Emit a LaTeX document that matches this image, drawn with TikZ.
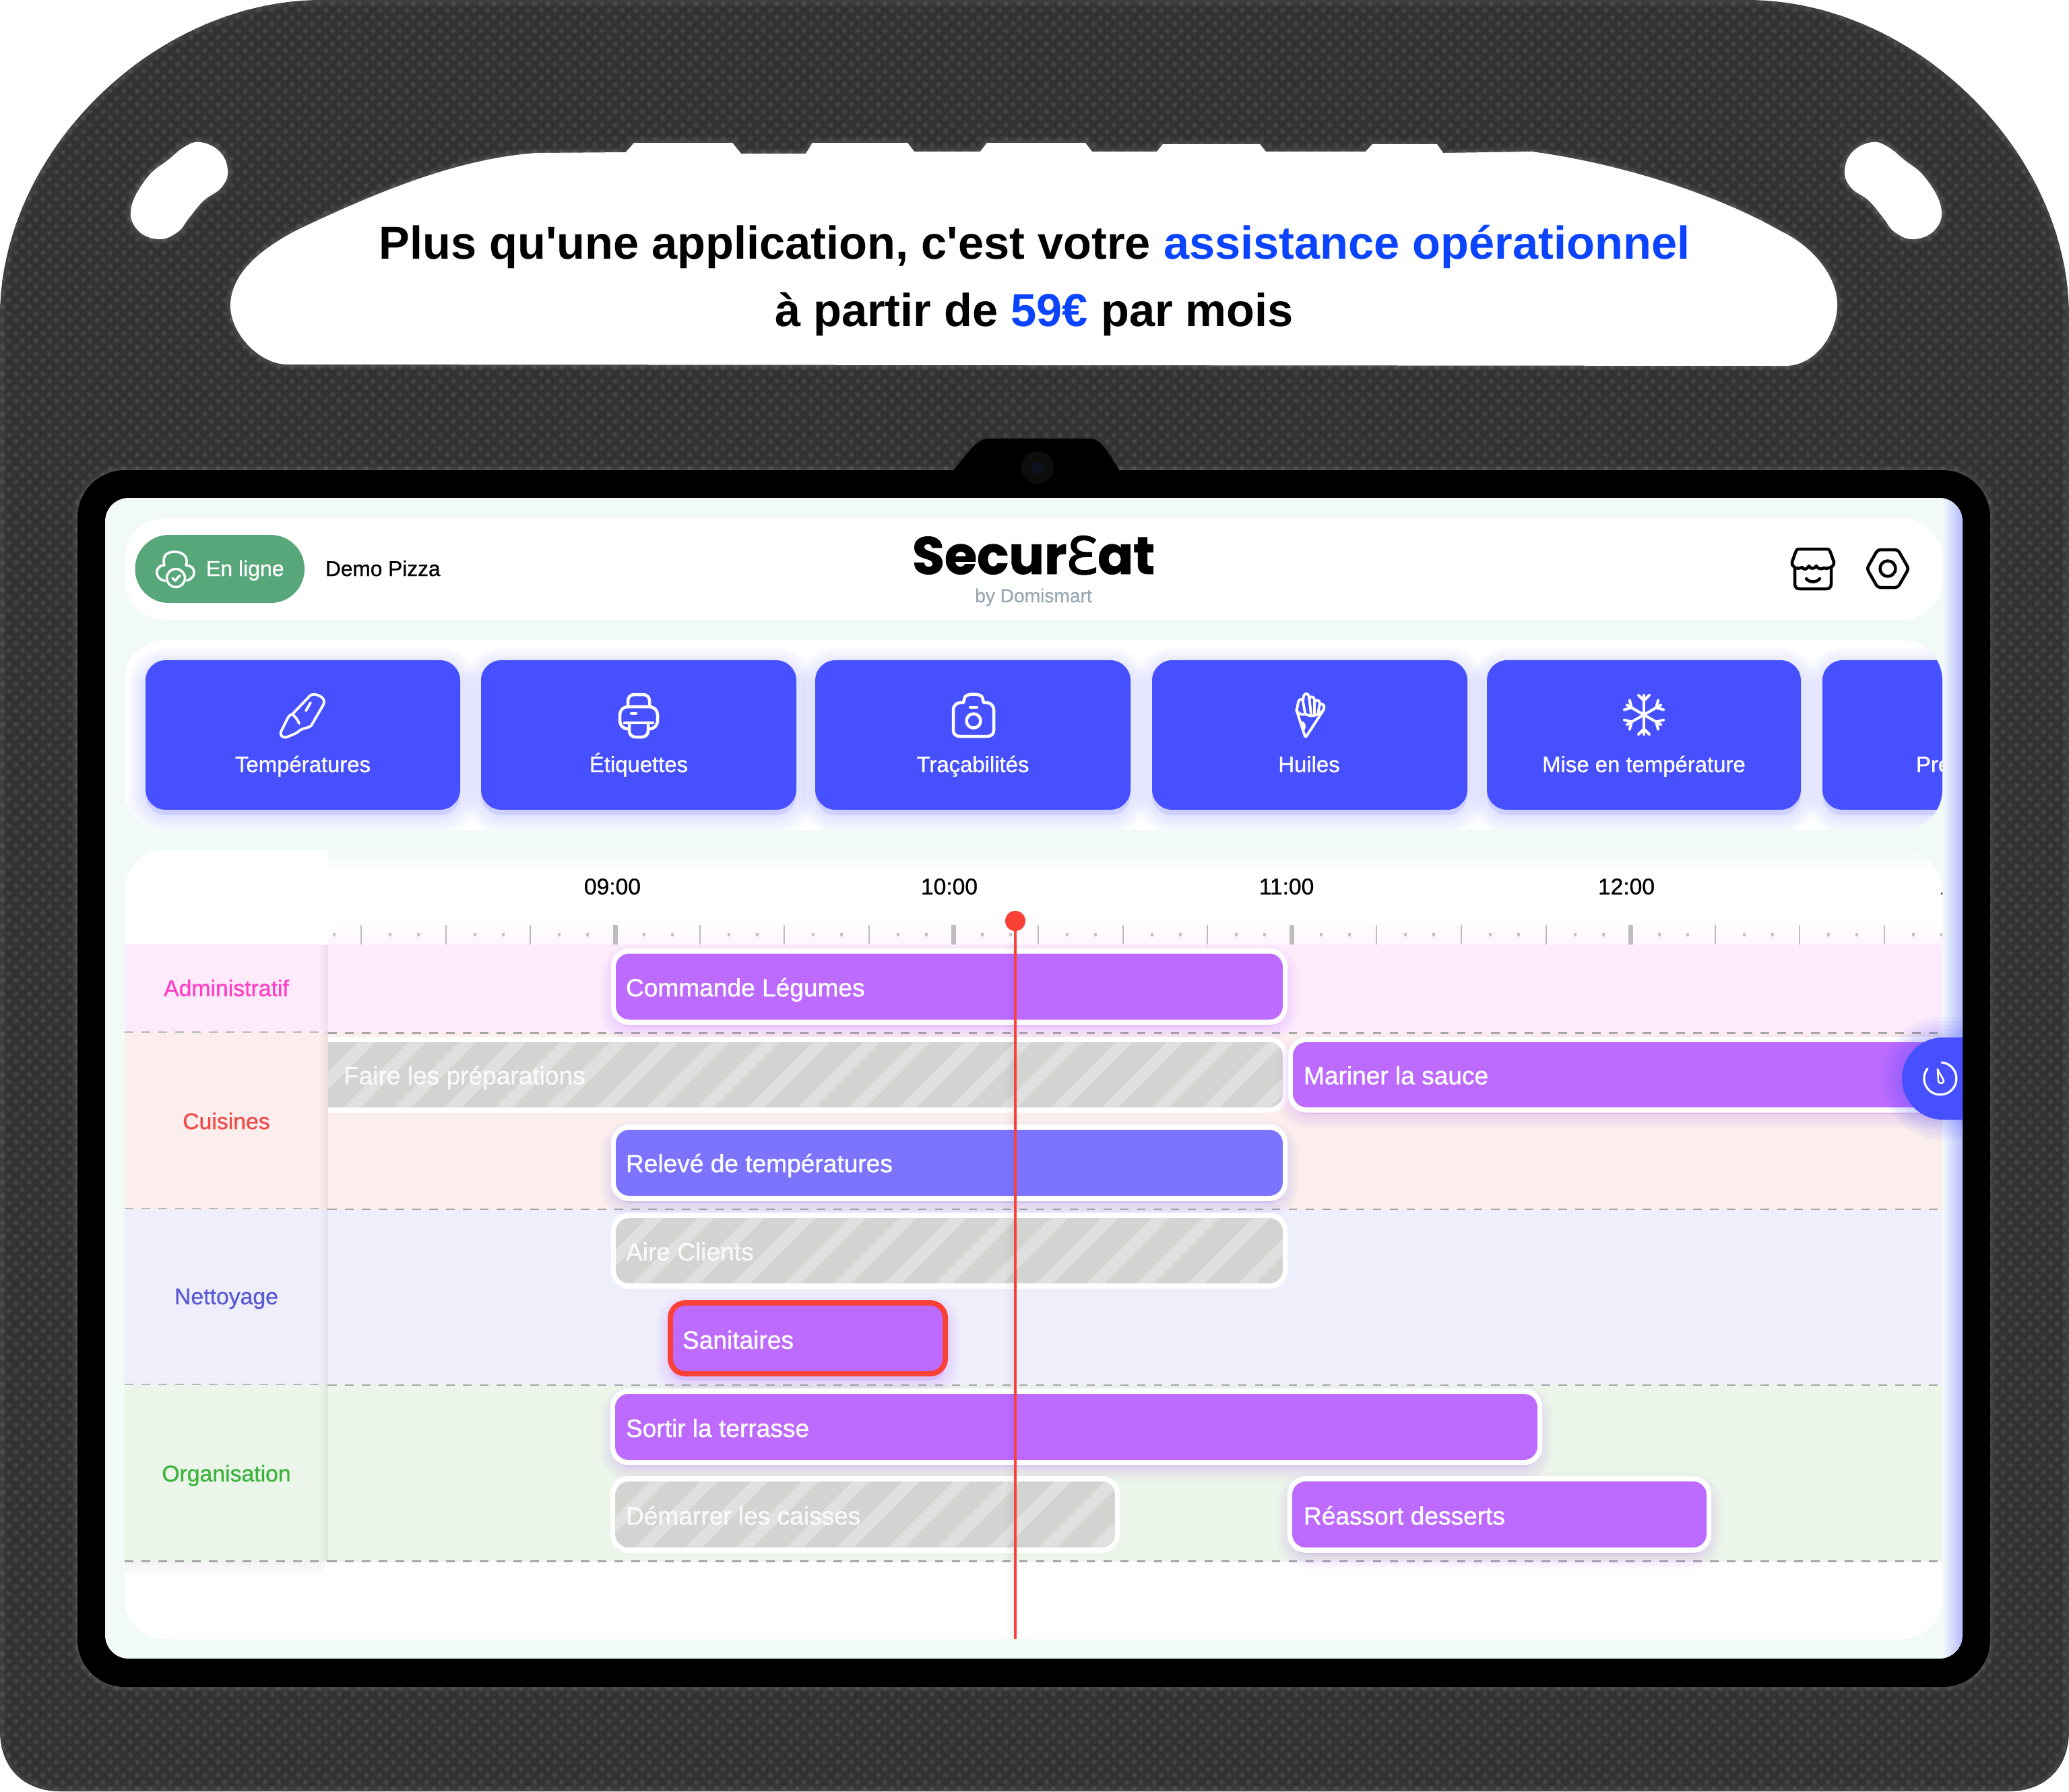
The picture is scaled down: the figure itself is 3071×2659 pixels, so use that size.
\documentclass[tikz,border=0pt]{standalone}
\usepackage{fontspec}
\usetikzlibrary{patterns}
\setmainfont{Liberation Sans}
\newfontfamily\uifont[FakeBold=0.9]{Liberation Sans}
\newfontfamily\headfont{Liberation Sans}
\newfontfamily\logofont[FakeBold=1.2]{Poppins}
\newfontfamily\logoefont[FakeBold=2.2]{Noto Sans}
\newcommand\fs[1]{\fontsize{#1}{#1}\selectfont}
\definecolor{screenc}{HTML}{F2FAF8}
\definecolor{btnblue}{HTML}{4650FF}
\definecolor{barpurple}{HTML}{BD6BFF}
\definecolor{barblue}{HTML}{7C74FF}
\definecolor{redc}{HTML}{FA4137}
\definecolor{pinkband}{HTML}{FDEBFC}
\definecolor{salmonband}{HTML}{FBEEEC}
\definecolor{lavband}{HTML}{EFEFFB}
\definecolor{greenband}{HTML}{EBF5E9}
\definecolor{headblue}{HTML}{0A44FF}
\definecolor{bodyc}{HTML}{323232}
\definecolor{dotm}{HTML}{3B3B3B}
\definecolor{dotc}{HTML}{484848}
\definecolor{pillg}{HTML}{57A77B}
\definecolor{pinkt}{HTML}{FF3EC4}
\definecolor{redt}{HTML}{EF4B4B}
\definecolor{lavt}{HTML}{5B5BD6}
\definecolor{greent}{HTML}{3CB43C}
\definecolor{bygrey}{HTML}{9AA8B5}
\definecolor{greyb}{HTML}{D3D3D1}
\definecolor{greys}{HTML}{E1E0E0}
\definecolor{edgeblue}{HTML}{B4BAFF}
\definecolor{lensc}{HTML}{10131F}
\pgfdeclarepatternformonly{weavebig}{\pgfpointorigin}{\pgfqpoint{5.69pt}{5.69pt}}{\pgfqpoint{5.69pt}{5.69pt}}{%
  \pgfpathcircle{\pgfqpoint{1.42pt}{1.42pt}}{1.45pt}%
  \pgfpathcircle{\pgfqpoint{4.27pt}{4.27pt}}{1.45pt}%
  \pgfusepath{fill}}
\pgfdeclarepatternformonly{weavesmall}{\pgfpointorigin}{\pgfqpoint{5.69pt}{5.69pt}}{\pgfqpoint{5.69pt}{5.69pt}}{%
  \pgfpathcircle{\pgfqpoint{1.42pt}{1.42pt}}{0.72pt}%
  \pgfpathcircle{\pgfqpoint{4.27pt}{4.27pt}}{0.72pt}%
  \pgfusepath{fill}}
\def\bodypath{(0,470) .. controls (0,225) and (230,0) .. (478,0) -- (2593,0) .. controls (2841,0) and (3071,225) .. (3071,470) -- (3071,2569) .. controls (3071,2625) and (3035,2659) .. (2981,2659) -- (90,2659) .. controls (36,2659) and (0,2625) .. (0,2569) -- cycle}
\def\bannerpath{(427,541) -- (2650,543) .. controls (2695,543) and (2727,495) .. (2727,452) .. controls (2727,410) and (2690,365) .. (2643,343) .. controls (2560,295) and (2420,245) .. (2274,225) -- (2142,227) -- (2133,214) -- (2037,214) -- (2027,225) -- (1879,225) -- (1870,214) -- (1726,214) -- (1717,225) -- (1621,225) -- (1611,212) -- (1465,212) -- (1455,225) -- (1357,225) -- (1347,212) -- (1206,212) -- (1196,228) -- (1100,228) -- (1087,212) -- (941,212) -- (929,226) -- (797,227) .. controls (680,235) and (560,285) .. (446,339) .. controls (400,362) and (342,400) .. (342,454) .. controls (342,495) and (385,541) .. (427,541) -- cycle}
\def\blobR{plot[smooth cycle,tension=0.7] coordinates {(2779,211) (2802,218) (2826,237) (2857,263) (2881,307) (2873,340) (2842,355) (2813,345) (2795,323) (2774,298) (2747,278) (2738,253) (2750,225)}}
\def\blobL{plot[smooth cycle,tension=0.7] coordinates {(297,211) (274,218) (250,237) (219,263) (195,307) (203,340) (234,355) (263,345) (281,323) (302,298) (329,278) (338,253) (326,225)}}
\tikzset{
  x=0.01cm,y=-0.01cm,
  uitext/.style={font=\uifont\fs{#1},inner sep=0pt,outer sep=0pt},
  uitext/.default={10pt},
  icon/.style={draw=white,line width=0.045cm,line cap=round,line join=round},
  iconk/.style={draw=black,line width=0.045cm,line cap=round,line join=round},
  btnbox/.style={fill=btnblue,rounded corners=0.3cm},
  panelbox/.style={fill=white,rounded corners=0.6cm},
  dashline/.style={draw=black!35,line width=0.024cm,dash pattern=on 0.125cm off 0.125cm},
  tickline/.style={draw=black!26,line width=0.02cm},
  barlabel/.style={uitext=10.55pt,text=white,anchor=base west},
  greylabel/.style={uitext=10.55pt,text=white,text opacity=0.85,anchor=base west},
  btnlabel/.style={uitext=9.35pt,text=white,anchor=base},
  bandlabel/.style={uitext=9.6pt,anchor=base},
  timelabel/.style={uitext=9.55pt,text=black,anchor=base},
}
% soft shadow of a rounded box
\newcommand\softshadow[6]{%
  \foreach \w in {44,36,28,20,12,6}{%
    \draw[draw=#5,fill=#5,line width=\w*0.01cm,opacity=0.035,rounded corners=0.22cm,line join=round] (#1,#2+#6) rectangle (#3,#4+#6);}}
% a task bar: x1 y1 x2 y2 colour
\newcommand\taskbar[5]{%
  \softshadow{#1}{#2}{#3}{#4}{#5}{10}%
  \fill[white,rounded corners=0.27cm] (#1-7,#2-8) rectangle (#3+7,#4+8);
  \fill[#5,rounded corners=0.2cm] (#1,#2) rectangle (#3,#4);}
% a hatched task bar: x1 y1 x2 y2, x of the first stripe at the foot
\newcommand\greybar[5]{%
  \fill[white,rounded corners=0.27cm] (#1-7,#2-8) rectangle (#3+7,#4+8);
  \begin{scope}
    \clip[rounded corners=0.2cm] (#1,#2) rectangle (#3,#4);
    \fill[greyb] (#1,#2) rectangle (#3,#4);
    \foreach \k in {0,...,22}{%
      \fill[greys] ({#5+75*\k},#4) -- ({#5+25+75*\k},#4) -- ({#5+25+75*\k+(#4-#2)},#2) -- ({#5+75*\k+(#4-#2)},#2) -- cycle;}
  \end{scope}}
\begin{document}
\begin{tikzpicture}
\useasboundingbox (0,0) rectangle (3071,2659);
\fill[white] (0,0) rectangle (3071,2659);
% ---------- protective case ----------
\fill[bodyc] \bodypath;
\fill[pattern=weavebig,pattern color=dotm] \bodypath;
\fill[pattern=weavesmall,pattern color=dotc] \bodypath;
\begin{scope}
  \clip \bodypath;
  \foreach \w in {18,10}{\draw[white,line width=\w*0.01cm,opacity=0.03] \bodypath;}
  \foreach \w in {16,10,5}{%
    \draw[white,line width=\w*0.01cm,opacity=0.035] \bannerpath;
    \draw[white,line width=\w*0.01cm,opacity=0.04] \blobL;
    \draw[white,line width=\w*0.01cm,opacity=0.04] \blobR;
    \draw[white,line width=\w*0.01cm,opacity=0.03,rounded corners=0.7cm] (115,698) rectangle (2954,2504);}
\end{scope}
\fill[white] \bannerpath;
\fill[white] \blobL;
\fill[white] \blobR;
\node[font=\headfont\bfseries\fs{19.5pt},text=black,anchor=base,inner sep=0pt] (headone) at (1535.5,384) {Plus qu'une application, c'est votre \textcolor{headblue}{assistance opérationnel}};
\node[font=\headfont\bfseries\fs{19.5pt},text=black,anchor=base,inner sep=0pt] (headtwo) at (1535,484) {à partir de \textcolor{headblue}{59€} par mois};
% ---------- tablet ----------
\fill[black] (1413,700) .. controls (1435,675) and (1450,651) .. (1466,651) -- (1619,651) .. controls (1635,651) and (1650,680) .. (1663,700) -- cycle;
\fill[black,rounded corners=0.7cm] (115,698) rectangle (2954,2504);
\fill[black!95!white] (1540,694) circle[radius=0.24cm];
\fill[lensc] (1540,694) circle[radius=0.09cm];
\begin{scope}
\clip[rounded corners=0.35cm] (156,739) rectangle (2913,2462);
\fill[screenc] (156,739) rectangle (2913,2462);
\shade[left color=screenc,right color=edgeblue] (2883,739) rectangle (2913,2462);
% ---------- top panel ----------
\fill[panelbox] (185,769) rectangle (2883,920);
\fill[fill=pillg,rounded corners=0.5cm] (200.5,794) rectangle (452,895);
% cloud icon
\begin{scope}[shift={(261,845)}]
  \draw[icon,line width=0.035cm] (-10,17) .. controls (-32,20) and (-34,-6) .. (-17,-6) .. controls (-22,-24) and (-8,-26) .. (-2,-26) .. controls (8,-26) and (20,-20) .. (15,-6) .. controls (32,-6) and (32,18) .. (10,17);
  \fill[pillg] (0,13) circle[radius=0.16cm];
  \draw[icon,line width=0.035cm] (0,13) circle[radius=0.135cm];
  \draw[icon,line width=0.035cm] (-5,13) -- (-1,17) -- (6,9);
\end{scope}
\node[uitext=9.1pt,text=white,anchor=base west] (online) at (306,855) {En ligne};
\node[uitext=9pt,text=black,anchor=base west] (demo) at (483,855) {Demo Pizza};
\node[font=\logofont\bfseries\fs{22.2pt},anchor=base,inner sep=0pt,text=black] (logo) at (1534,852) {Secur{\logoefont\bfseries Ɛ}at};
\node[uitext=8pt,text=bygrey,anchor=base] (bydomi) at (1534,894) {by Domismart};
% shop icon
\begin{scope}[shift={(2691,844)}]
  \draw[iconk] (-20,-29) -- (20,-29) .. controls (24,-29) and (25,-27) .. (26,-24) -- (31,-10) .. controls (32,-2) and (22,1) .. (16,-1) .. controls (13,1) and (7,1) .. (5,-4) .. controls (2,1) and (-4,1) .. (-6,-4) .. controls (-9,2) and (-14,2) .. (-16,-2) .. controls (-24,2) and (-32,-2) .. (-31,-10) -- (-26,-24) .. controls (-25,-27) and (-24,-29) .. (-20,-29) -- cycle;
  \draw[iconk] (-27,-1) -- (-27,22) .. controls (-27,27) and (-25,30) .. (-20,30) -- (20,30) .. controls (25,30) and (27,27) .. (27,22) -- (27,-1);
  \draw[iconk] (-10,15) .. controls (-5,21) and (5,21) .. (10,15);
\end{scope}
% hexagon nut icon
\begin{scope}[shift={(2802,844)}]
  \draw[iconk,rounded corners=0.04cm] (-31,0) -- (-15,-28) -- (15,-28) -- (31,0) -- (15,28) -- (-15,28) -- cycle;
  \draw[iconk] (0,0) circle[radius=0.115cm];
\end{scope}
% ---------- buttons panel ----------
\fill[panelbox] (185,950) rectangle (2883,1232);
\begin{scope}
  \clip[rounded corners=0.6cm] (185,950) rectangle (2883,1232);
  \foreach \a/\b in {216/683,714/1182,1210/1678,1710/2178,2207/2673,2705/3170}{%
    \foreach \w in {52,42,32,22,12}{\draw[draw=btnblue,fill=btnblue,line width=\w*0.01cm,opacity=0.028,rounded corners=0.3cm] (\a,988) rectangle (\b,1210);}}
  \foreach \a/\b in {216/683,714/1182,1210/1678,1710/2178,2207/2673,2705/3170}{\fill[btnbox] (\a,980) rectangle (\b,1202);}
  \node[btnlabel] (btna) at (449.5,1146) {Températures};
  \node[btnlabel] (btnb) at (948,1146) {Étiquettes};
  \node[btnlabel] (btnc) at (1444,1146) {Traçabilités};
  \node[btnlabel] (btnd) at (1943,1146) {Huiles};
  \node[btnlabel] (btne) at (2440,1146) {Mise en température};
  \node[btnlabel,anchor=base west] (btnf) at (2844,1146) {Pre};
\end{scope}
% thermometer
\begin{scope}[shift={(450,1062)}]
  \draw[icon,line width=0.038cm] (7,-26) .. controls (10,-31) and (16,-33) .. (22,-30) .. controls (30,-27) and (33,-22) .. (30,-16) -- (12,15) .. controls (8,19) and (2,18) .. (-3,21) .. controls (-8,24) and (-9,26) .. (-12,27) -- (-24,32) .. controls (-31,34) and (-35,29) .. (-33,24) -- (-24,6) .. controls (-22,2) and (-20,-1) .. (-16,-2) -- cycle;
  \draw[icon,line width=0.038cm] (11,-19) -- (4,-7);
  \draw[icon,line width=0.038cm] (-16,-2) .. controls (-12,2) and (-8,6) .. (-6,12);
\end{scope}
% printer
\begin{scope}[shift={(948,1062)}]
  \draw[icon,rounded corners=0.09cm] (-16,-13) -- (-16,-31) -- (16,-31) -- (16,-13);
  \draw[icon,rounded corners=0.12cm] (-15,20) -- (-28,20) -- (-28,-13) -- (28,-13) -- (28,20) -- (15,20);
  \draw[icon] (-21,11) -- (21,11);
  \draw[icon,rounded corners=0.09cm] (-14,11) -- (-14,32) -- (14,32) -- (14,11);
  \draw[icon] (-11,-3) -- (-4,-3);
\end{scope}
% camera
\begin{scope}[shift={(1445,1062)}]
  \draw[icon] (-15,-19) -- (-13,-27) .. controls (-11,-33) and (11,-33) .. (13,-27) -- (15,-19) .. controls (24,-20) and (30,-16) .. (30,-8) -- (30,22) .. controls (30,28) and (26,31) .. (20,31) -- (-20,31) .. controls (-26,31) and (-30,28) .. (-30,22) -- (-30,-8) .. controls (-30,-16) and (-24,-20) .. (-15,-19) -- cycle;
  \draw[icon] (0,8) circle[radius=0.105cm];
  \draw[icon] (-5,-12) -- (5,-12);
\end{scope}
% fries
\begin{scope}[shift={(1944,1062)}]
  \draw[icon,line width=0.038cm] (-20,-9) -- (-8,28) .. controls (-7,33) and (-5,32) .. (-3,28) -- (21,-9) .. controls (12,2) and (0,2) .. (-6,-2) .. controls (-12,0) and (-18,-3) .. (-20,-9);
  \draw[icon,line width=0.038cm] (-19,-9) -- (-17,-20) .. controls (-15,-26) and (-11,-25) .. (-10,-21) -- (-7,-4);
  \draw[icon,line width=0.038cm] (-10,-21) -- (-9,-29) .. controls (-7,-34) and (-2,-33) .. (-1,-28) -- (2,-2);
  \draw[icon,line width=0.038cm] (-1,-24) .. controls (1,-30) and (6,-28) .. (7,-24) -- (7,-1);
  \draw[icon,line width=0.038cm] (7,-20) .. controls (10,-24) and (15,-23) .. (15,-18) -- (12,-2);
  \draw[icon,line width=0.038cm] (15,-16) .. controls (19,-19) and (23,-15) .. (21,-9);
  \draw[icon,line width=0.038cm] (-14,10) .. controls (-8,10) and (-6,16) .. (-10,22);
\end{scope}
% snowflake
\begin{scope}[shift={(2440,1061)}]
  \foreach \r in {0,60,120,180,240,300}{%
    \begin{scope}[rotate=\r]
      \draw[icon,line width=0.04cm] (0,0) -- (0,-29);
      \draw[icon,line width=0.04cm] (-8,-29) -- (0,-21) -- (8,-29);
    \end{scope}}
\end{scope}
% ---------- timeline panel ----------
\fill[panelbox] (185,1262) rectangle (2883,2433);
\begin{scope}
  \clip[rounded corners=0.6cm] (185,1262) rectangle (2883,2433);
  \shade[top color=screenc,bottom color=white] (487,1262) rectangle (2883,1292);
  \shade[top color=white,bottom color=pinkband!45!white] (487,1365) rectangle (2883,1402);
  \fill[pinkband] (185,1402) rectangle (2883,1533);
  \fill[salmonband] (185,1533) rectangle (2883,1795);
  \fill[lavband] (185,1795) rectangle (2883,2056);
  \fill[greenband] (185,2056) rectangle (2883,2317.5);
  % ruler
  \begin{scope}
    \clip (487,1300) rectangle (2883,1402);
    \foreach \i [evaluate=\i as \xx using 913+\i*125.6] in {-4,...,15}{%
      \draw[tickline] (\xx,1373) -- (\xx,1402);
      \fill[black!24] (\xx+41,1385) rectangle (\xx+45,1390);
      \fill[black!24] (\xx+83,1385) rectangle (\xx+87,1390);}
    \foreach \i [evaluate=\i as \xx using 913+\i*125.6] in {0,4,8,12}{%
      \fill[black!26] (\xx-3.5,1373) rectangle (\xx+3.5,1402);}
  \end{scope}
  \node[timelabel] (tnine) at (909,1327.5) {09:00};
  \node[timelabel] (tten) at (1409,1327.5) {10:00};
  \node[timelabel] (televen) at (1909.5,1327.5) {11:00};
  \node[timelabel] (ttwelve) at (2414,1327.5) {12:00};
  \node[timelabel,anchor=base west] (tthirteen) at (2879,1327.5) {13:00};
  % dashed separators
  \draw[dashline] (487,1533.5) -- (2883,1533.5);
  \draw[dashline] (487,1795) -- (2883,1795);
  \draw[dashline] (487,2056) -- (2883,2056);
  \draw[dashline] (487,2317.5) -- (2883,2317.5);
  % bars
  \taskbar{914}{1415.5}{1904}{1513.5}{barpurple}
  \greybar{440}{1547}{1904}{1643.5}{360}
  \taskbar{1919}{1547}{2990}{1643.5}{barpurple}
  \taskbar{914}{1677}{1904}{1775}{barblue}
  \greybar{914}{1808}{1904}{1905}{788}
  \softshadow{995}{1934}{1403}{2039}{barpurple}{10}
  \draw[draw=redc,fill=barpurple,line width=0.08cm,rounded corners=0.22cm] (995,1934) rectangle (1403,2039);
  \taskbar{913}{2069}{2282}{2167}{barpurple}
  \greybar{913}{2199}{1655}{2297}{792}
  \taskbar{1918}{2199}{2533}{2297}{barpurple}
  \node[barlabel] (barcmd) at (929,1479) {Commande Légumes};
  \node[greylabel] (barprep) at (510,1609.5) {Faire les préparations};
  \node[barlabel] (barmar) at (1935,1609.5) {Mariner la sauce};
  \node[barlabel] (barrel) at (929,1740) {Relevé de températures};
  \node[greylabel] (baraire) at (929,1871) {Aire Clients};
  \node[barlabel] (barsan) at (1013,2002) {Sanitaires};
  \node[barlabel] (barsor) at (929,2133) {Sortir la terrasse};
  \node[greylabel] (bardem) at (929,2263) {Démarrer les caisses};
  \node[barlabel] (barrea) at (1935,2263) {Réassort desserts};
  % left column
  \fill[white] (185,1262) rectangle (487,1402);
  \fill[pinkband] (185,1402) rectangle (487,1533);
  \fill[salmonband] (185,1533) rectangle (487,1795);
  \fill[lavband] (185,1795) rectangle (487,2056);
  \fill[greenband] (185,2056) rectangle (487,2317.5);
  \foreach \d in {3,6,9,12}{\fill[black,opacity=0.012] (487-\d,1402) rectangle (487,2317.5);}
  \foreach \d in {5,10,15,20}{\fill[black,opacity=0.012] (185,2317.5) rectangle (487-\d/2,2317.5+\d);}
  \draw[draw=black!28,line width=0.012cm,dash pattern=on 0.125cm off 0.125cm] (185,1532) -- (487,1532);
  \draw[draw=black!28,line width=0.012cm,dash pattern=on 0.125cm off 0.125cm] (185,1794) -- (487,1794);
  \draw[draw=black!28,line width=0.012cm,dash pattern=on 0.125cm off 0.125cm] (185,2055) -- (487,2055);
  \draw[dashline] (185,2317.5) -- (487,2317.5);
  \node[bandlabel,text=pinkt] (adm) at (336,1478.6) {Administratif};
  \node[bandlabel,text=redt] (cui) at (336,1676) {Cuisines};
  \node[bandlabel,text=lavt] (net) at (336,1936) {Nettoyage};
  \node[bandlabel,text=greent] (org) at (336,2199) {Organisation};
  % now line
  \foreach \d in {4,8,12}{\fill[black,opacity=0.012] (1505-\d,1400) rectangle (1505,2433);}
  \draw[redc,line width=0.045cm] (1507,1367) -- (1507,2433);
  \fill[redc] (1507,1367) circle[radius=0.15cm];
\end{scope}
% ---------- timer button ----------
\foreach \w in {60,48,36,24,12}{\draw[draw=btnblue,fill=btnblue,line width=\w*0.01cm,opacity=0.05,rounded corners=0.61cm] (2823,1540) rectangle (3000,1662);}
\fill[btnblue,rounded corners=0.61cm] (2823,1540) rectangle (3000,1662);
\begin{scope}[shift={(2880,1601)}]
  \draw[draw=white,line width=0.032cm,line cap=round] (2,-24) arc[start angle=85,end angle=-218,radius=0.24cm];
  \draw[draw=white,line width=0.026cm,line join=round] (-4,-14) .. controls (-1,-6) and (5,0) .. (5,4) .. controls (4,8) and (-2,8) .. (-3,4) -- cycle;
\end{scope}
\end{scope}
\end{tikzpicture}
\end{document}
